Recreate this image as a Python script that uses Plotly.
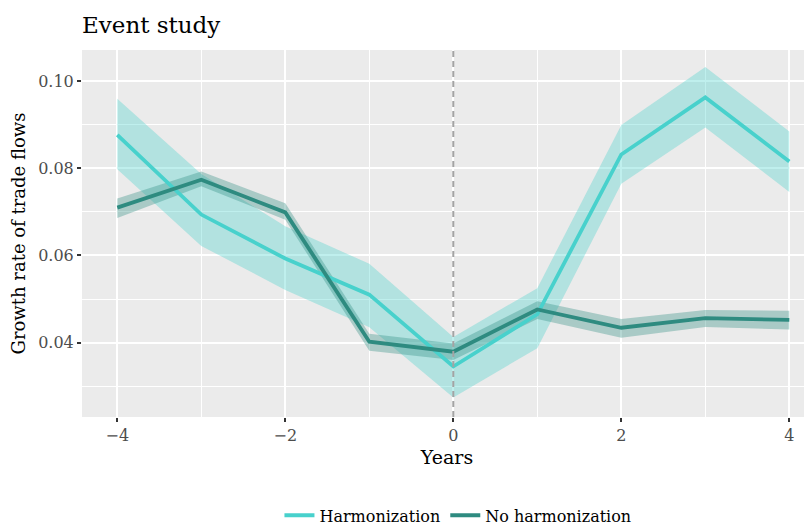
import plotly.graph_objects as go

years = [-4, -3, -2, -1, 0, 1, 2, 3, 4]

harm = [0.0877, 0.0694, 0.0593, 0.0510, 0.0345, 0.0465, 0.0832, 0.0963, 0.0816]
harm_hi = [0.0960, 0.0787, 0.0667, 0.0581, 0.0413, 0.0525, 0.0900, 0.1033, 0.0885]
harm_lo = [0.0798, 0.0622, 0.0521, 0.0435, 0.0274, 0.0387, 0.0765, 0.0894, 0.0746]

noharm = [0.0710, 0.0774, 0.0699, 0.0402, 0.0379, 0.0476, 0.0434, 0.0456, 0.0452]
noharm_hi = [0.0731, 0.0793, 0.0720, 0.0420, 0.0398, 0.0495, 0.0454, 0.0475, 0.0473]
noharm_lo = [0.0686, 0.0759, 0.0682, 0.0381, 0.0360, 0.0454, 0.0411, 0.0436, 0.0430]

light = '#48D1CC'
dark = '#2E8B80'

fig = go.Figure()

# confidence bands first
for lo, hi, band in [(harm_lo, harm_hi, 'rgba(72,209,204,0.35)'),
                     (noharm_lo, noharm_hi, 'rgba(46,139,128,0.35)')]:
    fig.add_trace(go.Scatter(x=years, y=lo, mode='lines', line=dict(width=0),
                             showlegend=False, hoverinfo='skip'))
    fig.add_trace(go.Scatter(x=years, y=hi, mode='lines', line=dict(width=0),
                             fill='tonexty', fillcolor=band,
                             showlegend=False, hoverinfo='skip'))

fig.add_trace(go.Scatter(x=years, y=harm, mode='lines', name='Harmonization',
                         line=dict(color=light, width=3.8)))
fig.add_trace(go.Scatter(x=years, y=noharm, mode='lines', name='No harmonization',
                         line=dict(color=dark, width=3.8)))

fig.add_vline(x=0, line_dash='6px,4px', line_color='#a3a3a3', line_width=2)

# page body has an 8px margin, so margins are shifted by 8px
fig.update_layout(
    width=812, height=532,
    margin=dict(l=74, r=8, t=42, b=115),
    paper_bgcolor='white',
    plot_bgcolor='#EBEBEB',
    font=dict(family='DejaVu Serif', color='black'),
    title=dict(text='Event study', x=0, xref='paper', xanchor='left', y=0.968,
               yanchor='middle', font=dict(size=23, color='black')),
    showlegend=True,
    legend=dict(orientation='h', traceorder='normal', x=0.515, xanchor='center',
                y=-0.268, yanchor='middle', font=dict(size=16), bgcolor='white'),
)
fig.update_xaxes(
    range=[-4.42, 4.27], tickvals=[-4, -2, 0, 2, 4],
    ticktext=['\u22124', '\u22122', '0', '2', '4'],
    showgrid=True, gridcolor='white', gridwidth=1.8, zeroline=False,
    minor=dict(tickvals=[-3, -1, 1, 3], showgrid=True, gridcolor='white', gridwidth=0.9),
    ticks='outside', ticklen=4, tickwidth=1.5, tickcolor='#333333',
    tickfont=dict(size=16, color='#4D4D4D'), automargin=False,
    title=dict(text='Years', font=dict(size=19), standoff=6),
)
fig.update_yaxes(
    range=[0.0229, 0.1072], tickvals=[0.04, 0.06, 0.08, 0.10],
    ticktext=['0.04', '0.06', '0.08', '0.10'],
    showgrid=True, gridcolor='white', gridwidth=1.8, zeroline=False,
    minor=dict(tickvals=[0.03, 0.05, 0.07, 0.09], showgrid=True, gridcolor='white', gridwidth=0.9),
    ticks='outside', ticklen=4, tickwidth=1.5, tickcolor='#333333',
    tickfont=dict(size=16, color='#4D4D4D'), automargin=False,
    title=dict(text='Growth rate of trade flows', font=dict(size=18), standoff=8),
)

fig.write_html('out.html')
